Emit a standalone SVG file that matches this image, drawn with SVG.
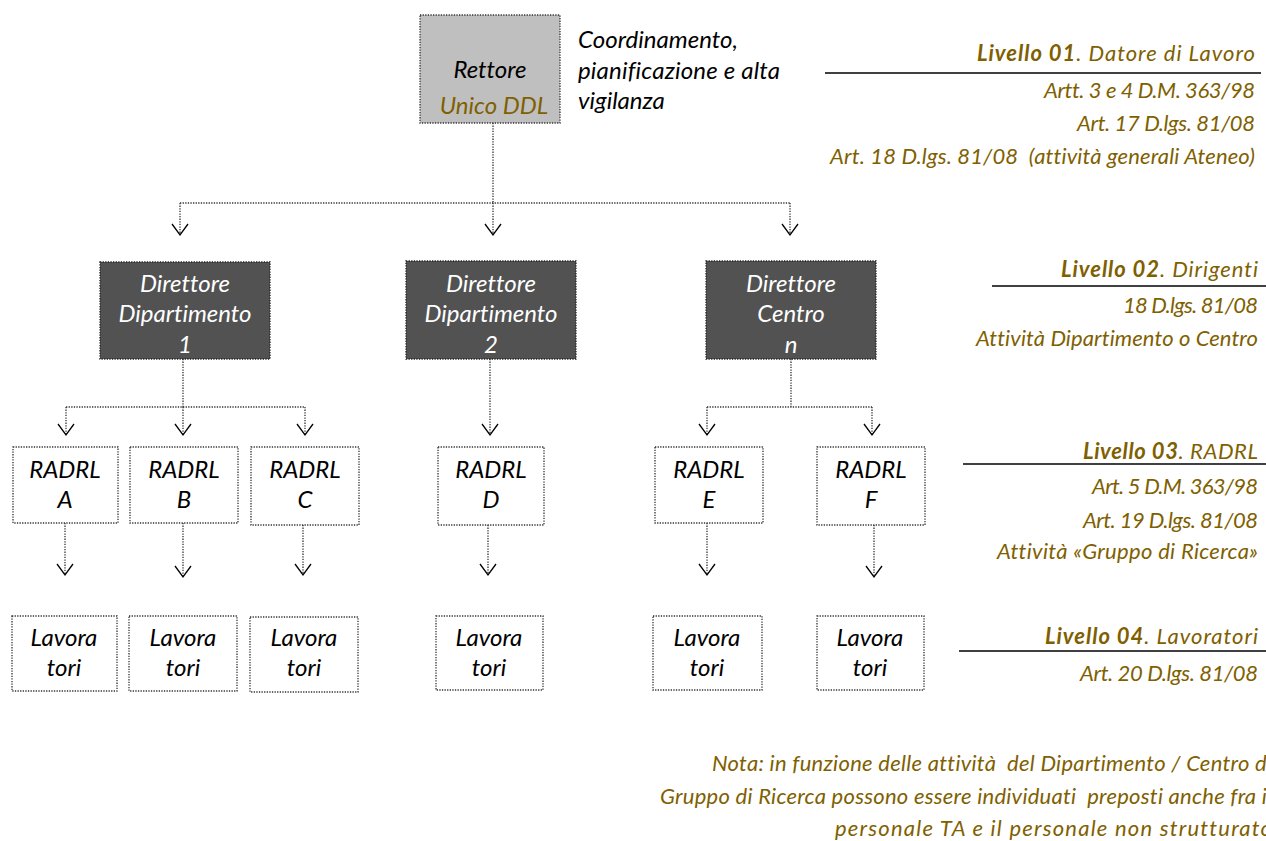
<svg xmlns="http://www.w3.org/2000/svg" width="1266" height="841" viewBox="0 0 1266 841">
<style>
text{font-family:Lato,"Liberation Sans",sans-serif;font-style:italic;font-size:24px;font-variant-ligatures:none}
.box{fill:#fff;stroke:#333;stroke-width:1.3;stroke-dasharray:1.3 1.3}
.dir{fill:#525252;stroke:#222;stroke-width:1.3;stroke-dasharray:1.3 1.3}
.top{fill:#BFBFBF;stroke:#333;stroke-width:1.3;stroke-dasharray:1.3 1.3}
.c{text-anchor:middle;fill:#000}
.w{text-anchor:middle;fill:#fff}
.ol{fill:#7F6000;font-size:22px}
.r{text-anchor:end;fill:#7F6000;font-size:22px}
.b{font-weight:bold}
.conn{fill:none;stroke:#333;stroke-width:1.3;stroke-dasharray:1.3 1.3}
.rule{stroke:#000;stroke-width:1.5}
</style>
<defs>
<marker id="ah" markerUnits="userSpaceOnUse" markerWidth="30" markerHeight="30" viewBox="-15 -15 30 30" refX="0" refY="0" orient="auto">
<path d="M-11,-8 L0,0 L-11,8" fill="none" stroke="#000" stroke-width="1.3" stroke-dasharray="none"/>
</marker>
</defs>
<g id="connectors">
<path class="conn" d="M493,123 V203 M180,203 H790 M180,203 V235" marker-end="url(#ah)"/>
<path class="conn" d="M493,203 V235" marker-end="url(#ah)"/>
<path class="conn" d="M790,203 V235" marker-end="url(#ah)"/>
<path class="conn" d="M183,359 V407 M66,407 H305 M66,407 V435" marker-end="url(#ah)"/>
<path class="conn" d="M183,407 V435" marker-end="url(#ah)"/>
<path class="conn" d="M305,407 V435" marker-end="url(#ah)"/>
<path class="conn" d="M490,359 V435" marker-end="url(#ah)"/>
<path class="conn" d="M791,359 V407 M707,407 H872 M707,407 V435" marker-end="url(#ah)"/>
<path class="conn" d="M872,407 V435" marker-end="url(#ah)"/>
<path class="conn" d="M65,523 V575" marker-end="url(#ah)"/>
<path class="conn" d="M183,523 V577" marker-end="url(#ah)"/>
<path class="conn" d="M303,525 V575" marker-end="url(#ah)"/>
<path class="conn" d="M488,525 V575" marker-end="url(#ah)"/>
<path class="conn" d="M707,523 V575" marker-end="url(#ah)"/>
<path class="conn" d="M874,525 V577" marker-end="url(#ah)"/>
</g>
<g id="rettore">
<rect class="top" x="420" y="15" width="140" height="108"/>
<text class="c" x="490" y="78">Rettore</text>
<text x="494" y="114" text-anchor="middle" fill="#7F6000">Unico DDL</text>
</g>
<g id="rettore-note">
<text x="578" y="48" fill="#000" textLength="160">Coordinamento,</text>
<text x="578" y="79" fill="#000" textLength="202">pianificazione e alta</text>
<text x="578" y="109" fill="#000">vigilanza</text>
</g>
<g id="dir1">
<rect class="dir" x="100" y="262" width="170" height="97"/>
<text class="w" x="185" y="292">Direttore</text>
<text class="w" x="185" y="322">Dipartimento</text>
<text class="w" x="185" y="353">1</text>
</g>
<g id="dir2">
<rect class="dir" x="406" y="261" width="170" height="98"/>
<text class="w" x="491" y="292">Direttore</text>
<text class="w" x="491" y="322">Dipartimento</text>
<text class="w" x="491" y="353">2</text>
</g>
<g id="dirn">
<rect class="dir" x="706" y="261" width="170" height="98"/>
<text class="w" x="791" y="292">Direttore</text>
<text class="w" x="791" y="322">Centro</text>
<text class="w" x="791" y="353">n</text>
</g>
<g id="radrlA"><rect class="box" x="13" y="447" width="105" height="76"/><text class="c" x="65" y="478">RADRL</text><text class="c" x="65" y="508">A</text></g>
<g id="radrlB"><rect class="box" x="130" y="447" width="108" height="76"/><text class="c" x="184" y="478">RADRL</text><text class="c" x="184" y="508">B</text></g>
<g id="radrlC"><rect class="box" x="251" y="447" width="108" height="78"/><text class="c" x="305" y="478">RADRL</text><text class="c" x="305" y="508">C</text></g>
<g id="radrlD"><rect class="box" x="438" y="447" width="106" height="78"/><text class="c" x="491" y="478">RADRL</text><text class="c" x="491" y="508">D</text></g>
<g id="radrlE"><rect class="box" x="655" y="447" width="108" height="76"/><text class="c" x="709" y="478">RADRL</text><text class="c" x="709" y="508">E</text></g>
<g id="radrlF"><rect class="box" x="817" y="447" width="108" height="78"/><text class="c" x="871" y="478">RADRL</text><text class="c" x="871" y="508">F</text></g>
<g id="lavA"><rect class="box" x="12" y="616" width="105" height="75"/><text class="c" x="64" y="646">Lavora</text><text class="c" x="64" y="676">tori</text></g>
<g id="lavB"><rect class="box" x="129" y="616" width="108" height="75"/><text class="c" x="183" y="646">Lavora</text><text class="c" x="183" y="676">tori</text></g>
<g id="lavC"><rect class="box" x="250" y="617" width="108" height="75"/><text class="c" x="304" y="646">Lavora</text><text class="c" x="304" y="676">tori</text></g>
<g id="lavD"><rect class="box" x="436" y="616" width="107" height="74"/><text class="c" x="489" y="646">Lavora</text><text class="c" x="489" y="676">tori</text></g>
<g id="lavE"><rect class="box" x="653" y="616" width="109" height="74"/><text class="c" x="707" y="646">Lavora</text><text class="c" x="707" y="676">tori</text></g>
<g id="lavF"><rect class="box" x="817" y="616" width="107" height="74"/><text class="c" x="870" y="646">Lavora</text><text class="c" x="870" y="676">tori</text></g>
<g id="livello01">
<text class="r" x="1255" y="61" textLength="278"><tspan class="b">Livello 01</tspan>. Datore di Lavoro</text>
<line class="rule" x1="825" y1="73" x2="1261" y2="73"/>
<text class="r" x="1255" y="98" textLength="211">Artt. 3 e 4 D.M. 363/98</text>
<text class="r" x="1255" y="131" textLength="178">Art. 17 D.lgs. 81/08</text>
<text class="r" x="1255" y="164" textLength="425" xml:space="preserve">Art. 18 D.lgs. 81/08  (attività generali Ateneo)</text>
</g>
<g id="livello02">
<text class="r" x="1258" y="277" textLength="197"><tspan class="b">Livello 02</tspan>. Dirigenti</text>
<line class="rule" x1="992" y1="286" x2="1266" y2="286"/>
<text class="r" x="1258" y="313" textLength="135">18 D.lgs. 81/08</text>
<text class="r" x="1258" y="346" textLength="282">Attività Dipartimento o Centro</text>
</g>
<g id="livello03">
<text class="r" x="1258" y="459" textLength="175"><tspan class="b">Livello 03</tspan>. RADRL</text>
<line class="rule" x1="963" y1="464" x2="1266" y2="464"/>
<text class="r" x="1258" y="494" textLength="166">Art. 5 D.M. 363/98</text>
<text class="r" x="1258" y="528" textLength="175">Art. 19 D.lgs. 81/08</text>
<text class="r" x="1258" y="559" textLength="261">Attività «Gruppo di Ricerca»</text>
</g>
<g id="livello04">
<text class="r" x="1258" y="644" textLength="213"><tspan class="b">Livello 04</tspan>. Lavoratori</text>
<line class="rule" x1="959" y1="651" x2="1266" y2="651"/>
<text class="r" x="1258" y="681" textLength="178">Art. 20 D.lgs. 81/08</text>
</g>
<g id="nota">
<text class="ol" x="712" y="771" textLength="560" xml:space="preserve">Nota: in funzione delle attività  del Dipartimento / Centro di</text>
<text class="ol" x="660" y="804" textLength="612" xml:space="preserve">Gruppo di Ricerca possono essere individuati  preposti anche fra il</text>
<text class="ol" x="835" y="836" textLength="437">personale TA e il personale non strutturato</text>
</g>
</svg>
